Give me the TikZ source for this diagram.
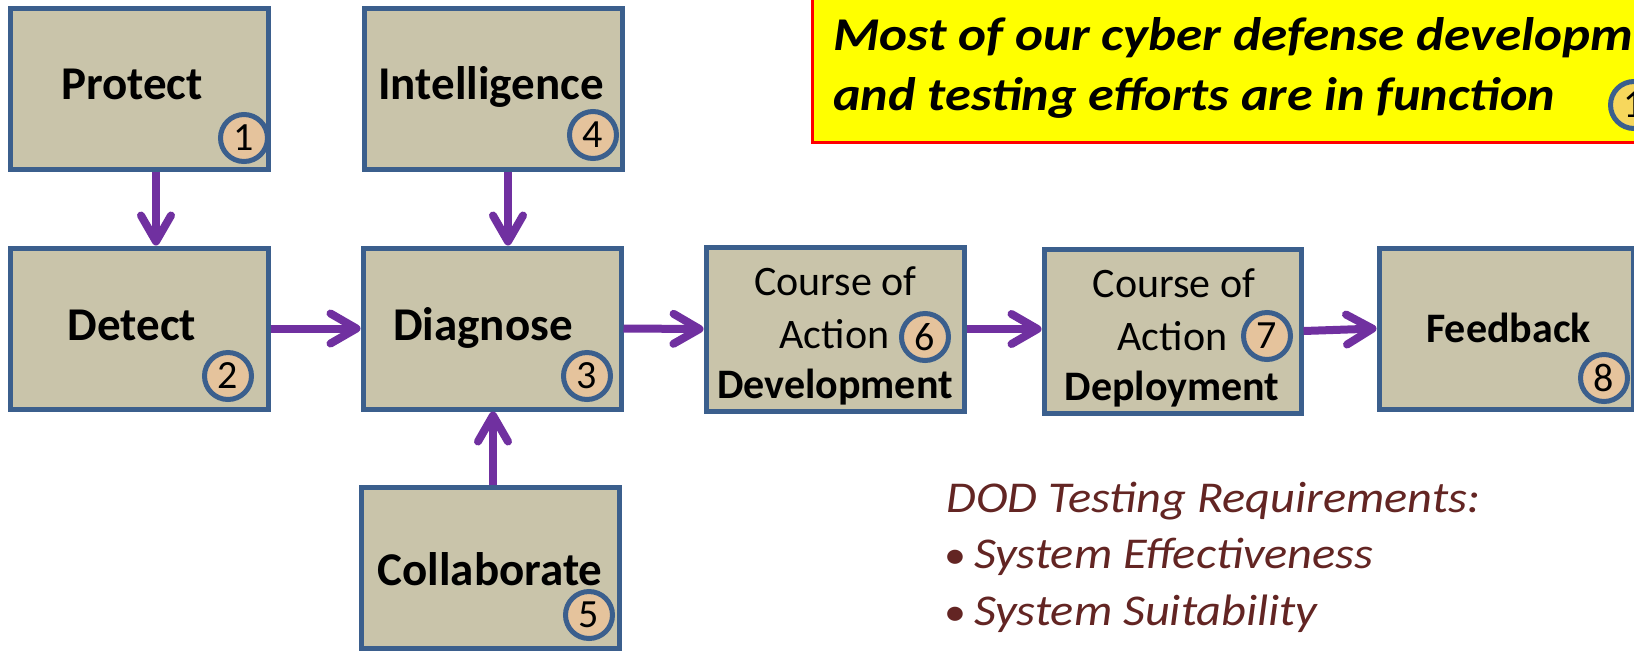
\documentclass[tikz,border=0pt]{standalone}
\usepackage{fontspec}
\usepackage{graphicx}
\setmainfont{Carlito}
\usetikzlibrary{arrows.meta}
\definecolor{boxfill}{HTML}{C9C4AA}
\definecolor{boxline}{HTML}{3B5F8D}
\definecolor{numfill}{HTML}{E5C39C}
\definecolor{flowpurple}{HTML}{7030A0}
\definecolor{noteyellow}{HTML}{FFFF00}
\definecolor{notered}{HTML}{FF0000}
\definecolor{goldfill}{HTML}{F7D75C}
\definecolor{dodred}{HTML}{632523}
\newcommand{\wideA}[1]{\scalebox{1.11}[1]{#1}}
\newcommand{\wideC}[1]{\scalebox{1.13}[1]{#1}}
\newcommand{\wideB}[1]{\scalebox{1.1}[1]{#1}}
\begin{document}
\begin{tikzpicture}[x=0.5pt,y=-0.5pt,
  stage/.style={draw=boxline, fill=boxfill, line width=2.5pt, rectangle, inner sep=0pt, minimum width=129pt, minimum height=80.5pt},
  num/.style={circle, draw=boxline, fill=numfill, line width=2.5pt, minimum size=23.5pt, inner sep=0pt, font=\fontsize{20}{24}\selectfont},
  biglbl/.style={anchor=base, inner sep=0pt, font=\bfseries\fontsize{23.5}{28}\selectfont},
  smlbl/.style={anchor=base, inner sep=0pt, font=\fontsize{21}{25}\selectfont},
  smbold/.style={anchor=base, inner sep=0pt, font=\bfseries\fontsize{21}{25}\selectfont},
  notebox/.style={draw=notered, fill=noteyellow, line width=1.5pt, rectangle, inner sep=0pt, minimum width=444pt, minimum height=76pt},
  notetext/.style={anchor=base west, inner sep=0pt, font=\bfseries\itshape\fontsize{23.5}{29}\selectfont},
  dodtext/.style={anchor=base west, inner sep=0pt, text=dodred, font=\itshape\fontsize{22}{27}\selectfont},
  flow/.style={draw=flowpurple, line width=4pt, -{Straight Barb[length=13pt,width=15pt,line cap=round,line join=round]}},
]
\clip (0,0) rectangle (1634,650);
\fill[white] (0,0) rectangle (1634,650);

% stage boxes
\node[stage] (protect) at (139,88.5) {};
\node[stage] (intel) at (493.5,88.5) {};
\node[stage] (detect) at (139,328.5) {};
\node[stage] (diag) at (492,328.5) {};
\node[stage] (collab) at (490,568) {};
\node[stage, minimum height=82pt] (dev) at (835,329) {};
\node[stage, minimum width=128.5pt, minimum height=82pt] (dep) at (1172.5,331) {};
\node[stage, minimum width=127pt] (fb) at (1506,328.5) {};

% connectors
\draw[flow] ([xshift=8.5pt]protect.south) -- ([xshift=8.5pt]detect.north);
\draw[flow] ([xshift=7.25pt]intel.south) -- ([xshift=8pt]diag.north);
\draw[flow] (detect.east) -- (diag.west);
\draw[flow] ([xshift=1.5pt]collab.north) -- ([xshift=0.5pt]diag.south);
\draw[flow] (diag.east) -- (dev.west);
\draw[flow] (dev.east) -- (dev.east -| dep.west);
\draw[flow] (dep.east) -- (fb.west);

% labels
\node[biglbl] (tprotect) at (132,99) {Protect};
\node[biglbl] (tintel) at (491,99) {Intelligence};
\node[biglbl] (tdetect) at (132,340) {Detect};
\node[biglbl] (tdiag) at (483,340) {Diagnose};
\node[biglbl] (tcollab) at (490,585) {Collaborate};
\node[smlbl] (dev1) at (835.5,295) {Course of};
\node[smlbl] (dev2) at (834.5,348) {Action};
\node[smbold] (dev3) at (835,398) {Development};
\node[smlbl] (dep1) at (1174,297) {Course of};
\node[smlbl] (dep2) at (1172.5,350) {Action};
\node[smbold] (dep3) at (1172,400) {Deployment};
\node[smbold] (tfb) at (1508.5,342) {Feedback};

% number circles
\node[num] (n1) at (244,138) {1};
\node[num] (n4) at (593,135) {4};
\node[num] (n2) at (228,376) {2};
\node[num] (n3) at (587,376) {3};
\node[num] (n5) at (589,615) {5};
\node[num] (n6) at (925,337) {6};
\node[num] (n7) at (1267,336) {7};
\node[num] (n8) at (1604,378) {8};

% note box
\node[notebox] (note) at (1256,66) {};
\node[notetext] (note1) at (833,50) {\wideC{Most of our cyber defense developm}};
\node[notetext] (note2) at (833,110) {\wideA{and testing efforts are in function}};
\node[num, fill=goldfill] (notenum) at (1634,105) {1};

% DOD requirements
\node[dodtext] (dod) at (946,512) {\wideB{DOD Testing Requirements:}};
\node[dodtext] (req1) at (944,568) {\wideB{{\upshape\fontsize{20}{24}\selectfont\textbullet}\hspace{3.5pt}System Effectiveness}};
\node[dodtext] (req2) at (944,625) {\wideB{{\upshape\fontsize{20}{24}\selectfont\textbullet}\hspace{3.5pt}System Suitability}};
\end{tikzpicture}
\end{document}
